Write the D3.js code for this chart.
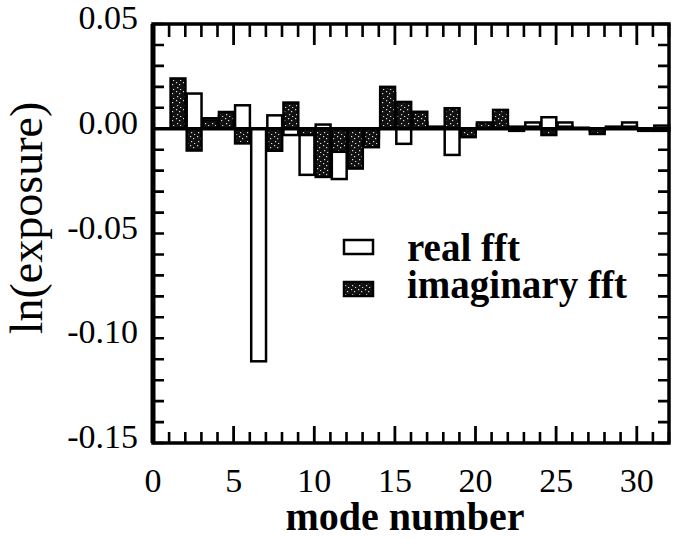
<!DOCTYPE html>
<html><head><meta charset="utf-8">
<script src="https://cdn.jsdelivr.net/npm/d3@7"></script>
<style>body{margin:0;background:#fff} svg{display:block}</style>
</head><body>
<svg id="c" width="673" height="539" xmlns="http://www.w3.org/2000/svg"></svg>
<script>
// ---- data ----
const modes = [1,2,3,4,5,6,7,8,9,10,11,12,13,14,15,16,17,18,19,20,21,22,23,24,25,26,27,28,29,30,31];
const realFFT = [0.000,0.0168,0.005,0.006,0.0112,-0.111,0.0064,-0.003,-0.022,0.002,-0.024,-0.014,-0.004,0.017,-0.0072,0.003,0.000,-0.0125,-0.002,0.002,0.002,0.001,0.003,0.0055,0.003,0.000,-0.001,0.001,0.003,0.000,0.0015];
const imagFFT = [0.024,-0.0104,0.004,0.008,-0.007,0.000,-0.0105,0.0125,-0.003,-0.023,-0.011,-0.019,-0.0088,0.020,0.0128,0.0081,0.001,0.0098,-0.004,0.003,0.009,-0.001,0.001,-0.003,0.001,0.0005,-0.0025,0.0005,0.001,-0.001,-0.001];
const xTickValues = [0,5,10,15,20,25,30];
const yTickValues = [0.05,0.00,-0.05,-0.10,-0.15];
const yTickLabels = ["0.05","0.00","-0.05","-0.10","-0.15"];
const legendLabels = ["real fft","imaginary fft"];
const xTitle = "mode number";
const yTitle = "ln(exposure)";

// ---- setup ----
const svg = d3.select("#c");
const font = "'Liberation Serif','Times New Roman',serif";
const x = d3.scaleLinear().domain([0,32]).range([153,669]);
const y = d3.scaleLinear().domain([-0.15,0.05]).range([443,24]);

const defs = svg.append("defs");
const pat = defs.append("pattern").attr("id","stip")
  .attr("patternUnits","userSpaceOnUse").attr("width",7).attr("height",9);
pat.append("rect").attr("width",7).attr("height",9).attr("fill","#111");
[[1,1],[4,3],[2,6],[5,8]].forEach(([px,py])=>{
  pat.append("rect").attr("x",px).attr("y",py).attr("width",1.2).attr("height",1.2).attr("fill","#ddd");
});

const bx0 = n => x(n + 0.09), bx1 = n => x(n + 1.01);

// real bars
svg.append("g").selectAll("rect").data(modes).join("rect")
  .attr("x", (d)=>bx0(d)).attr("width",(d)=>bx1(d)-bx0(d))
  .attr("y",(d,i)=>y(Math.max(0,realFFT[i])))
  .attr("height",(d,i)=>Math.abs(y(realFFT[i])-y(0)))
  .attr("fill","#fff").attr("stroke","#000").attr("stroke-width",2.5);

// imaginary bars
svg.append("g").selectAll("rect").data(modes).join("rect")
  .attr("x", (d)=>bx0(d)).attr("width",(d)=>bx1(d)-bx0(d))
  .attr("y",(d,i)=>y(Math.max(0,imagFFT[i])))
  .attr("height",(d,i)=>Math.abs(y(imagFFT[i])-y(0)))
  .attr("fill","url(#stip)").attr("stroke","#000").attr("stroke-width",2.5);

// zero line
svg.append("line").attr("x1",x(0)).attr("x2",x(32)).attr("y1",y(0)).attr("y2",y(0))
  .attr("stroke","#000").attr("stroke-width",3.5);

// ---- ticks (drawn from the scales as paths, pointing inward) ----
const yb = y(-0.15), yt = y(0.05), xl = x(0), xr = x(32);
const minorX = d3.range(0,33,1);
const minorY = d3.range(-15,6,1).map(v=>v/100);
let dMinor = "", dMajor = "";
minorX.forEach(v=>{
  const px = x(v).toFixed(1);
  if (v % 5 === 0) {
    dMajor += `M${px},${yb}V${yb-17}M${px},${yt}V${yt+21}`;
  } else {
    dMinor += `M${px},${yb}V${yb-11}M${px},${yt}V${yt+13}`;
  }
});
minorY.forEach(v=>{
  const py = y(v).toFixed(1);
  dMinor += `M${xl},${py}H${xl+11}M${xr},${py}H${xr-11}`;
});
svg.append("path").attr("d",dMinor).attr("fill","none").attr("stroke","#000").attr("stroke-width",2.6);
svg.append("path").attr("d",dMajor).attr("fill","none").attr("stroke","#000").attr("stroke-width",2.8);

// tick labels
svg.append("g").selectAll("text").data(xTickValues).join("text")
  .attr("x",d=>x(d)).attr("y",yb+49).attr("text-anchor","middle")
  .style("font-family",font).style("font-size","34px").text(d=>d);
svg.append("g").selectAll("text").data(yTickValues).join("text")
  .attr("x",xl-15).attr("y",d=>y(d)+5).attr("text-anchor","end")
  .style("font-family",font).style("font-size","34px").text((d,i)=>yTickLabels[i]);

// frame
svg.append("rect").attr("x",xl).attr("y",yt).attr("width",xr-xl).attr("height",yb-yt)
  .attr("fill","none").attr("stroke","#000").attr("stroke-width",3.5);
svg.append("line").attr("x1",xl).attr("x2",xl).attr("y1",yt).attr("y2",yb)
  .attr("stroke","#000").attr("stroke-width",5);

// ---- titles ----
svg.append("text").attr("x",405).attr("y",530).attr("text-anchor","middle")
  .style("font-family",font).style("font-size","40px").style("font-weight","bold").text(xTitle);
svg.append("text").attr("transform","translate(42,218) rotate(-90)").attr("text-anchor","middle")
  .style("font-family",font).style("font-size","46px").text(yTitle);

// ---- legend ----
const leg = svg.append("g");
const legFills = ["#fff","url(#stip)"];
const legY = [240, 282];
const legBase = [261, 298];
legendLabels.forEach((lab,i)=>{
  leg.append("rect").attr("x",344).attr("y",legY[i]).attr("width",29).attr("height",14)
    .attr("fill",legFills[i]).attr("stroke","#000").attr("stroke-width",2.5);
  leg.append("text").attr("x",407).attr("y",legBase[i])
    .style("font-family",font).style("font-size","39px").style("font-weight","bold").text(lab);
});
</script>
</body></html>
